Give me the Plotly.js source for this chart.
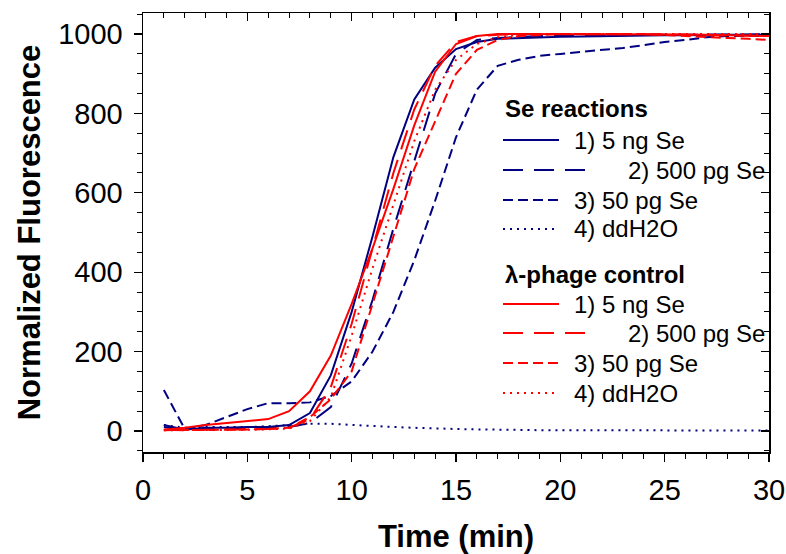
<!DOCTYPE html>
<html>
<head>
<meta charset="utf-8">
<script src="https://cdn.plot.ly/plotly-3.0.1.min.js"></script>
<style>html,body{margin:0;padding:0;background:#fff;}#chart{width:786px;height:554px;}</style>
</head>
<body>
<div id="chart"></div>
<script>
// Time (min)
const time = [1,2,3,4,5,6,7,8,9,10,11,12,13,14,15,16,17,18,19,20,21,22,23,24,25,26,27,28,29,30];

// Se reactions (blue)
const se_5ng   = [15,3,8,8,10,10,15,45,140,300,490,690,835,915,962,980,988,990,992,993,994,995,996,996,997,997,998,998,998,998];
const se_500pg = [10,2,5,5,6,8,10,20,60,170,330,510,680,850,950,985,990,993,995,995,996,997,997,998,998,998,999,999,999,1000];
const se_50pg  = [103,5,15,35,55,70,70,72,88,125,200,300,430,580,740,860,920,935,945,950,955,960,965,972,980,985,992,995,995,995];
const se_h2o   = [15,8,10,10,10,12,15,18,18,15,12,10,8,6,5,4,3,3,2,2,2,2,2,2,1,1,1,1,1,1];

// lambda-phage control (red)
const lp_5ng   = [3,8,15,20,25,30,50,100,190,320,460,610,770,905,975,995,1000,1000,1000,1000,1000,1000,1000,1000,1000,999,998,997,996,995];
const lp_500pg = [3,2,3,3,4,5,8,30,110,270,460,650,810,920,980,995,998,1000,1000,1000,1000,1000,1000,1000,999,998,997,996,995,995];
const lp_50pg  = [2,2,3,3,4,5,8,35,80,150,320,490,660,780,900,960,985,995,998,1000,1000,1000,1000,1000,998,995,992,990,988,985];
const lp_h2o   = [2,2,2,3,3,4,6,25,85,240,410,570,730,860,935,975,992,998,1000,1000,1000,1000,1000,1000,1000,1000,1000,1000,1000,1000];

const labels = ['1) 5 ng Se', '2) 500 pg Se', '3) 50 pg Se', '4) ddH2O'];
const groupTitles = ['Se reactions', '\u03bb-phage control'];

const BLUE = '#000080', RED = '#ff0000';
const dashes = ['solid', '20px,11px', '10px,5px', '2px,5px'];
const FONT = 'Liberation Sans, Arial, sans-serif';

// plot area in pixels (layout)
const L = 143, R = 769, T = 13, B = 452;
const px = v => (v - L) / (R - L);
const py = v => (B - v) / (B - T);

function mk(y, i, color) {
  return {
    x: time, y: y, type: 'scatter', mode: 'lines', name: labels[i],
    showlegend: false,
    line: {color: color, width: 2, dash: dashes[i]},
    hoverinfo: 'skip'
  };
}

const traces = [
  mk(se_5ng, 0, BLUE), mk(se_500pg, 1, BLUE), mk(se_50pg, 2, BLUE), mk(se_h2o, 3, BLUE),
  mk(lp_5ng, 0, RED), mk(lp_500pg, 1, RED), mk(lp_50pg, 2, RED), mk(lp_h2o, 3, RED),
  {x: [], y: [], xaxis: 'x2', yaxis: 'y2', showlegend: false, type: 'scatter', mode: 'lines', hoverinfo: 'skip'}
];

// hand-built legend (two groups), matching the reference's layout
const shapes = [], annotations = [];
const groupTop = [108, 274];
const itemRows = [[140, 170, 200, 229], [304, 333, 363, 393]];
const sampleEnd = [559, 591, 559, 557];
const textX = [572, 626, 572, 572];
[BLUE, RED].forEach((color, g) => {
  annotations.push({
    xref: 'paper', yref: 'paper', x: px(503), y: py(groupTop[g]), xanchor: 'left', yanchor: 'middle',
    text: '<b>' + groupTitles[g] + '</b>', showarrow: false,
    font: {family: FONT, size: 24, color: '#000'}
  });
  labels.forEach((lab, i) => {
    const yy = py(itemRows[g][i]);
    shapes.push({
      type: 'line', xref: 'paper', yref: 'paper', x0: px(503), x1: px(sampleEnd[i]), y0: yy, y1: yy,
      line: {color: color, width: 2, dash: dashes[i]}
    });
    annotations.push({
      xref: 'paper', yref: 'paper', x: px(textX[i]), y: yy, xanchor: 'left', yanchor: 'middle',
      text: lab, showarrow: false, font: {family: FONT, size: 24, color: '#000'}
    });
  });
});

const axBase = {
  showgrid: false, zeroline: false, showline: true, linecolor: '#000', linewidth: 1.5,
  tickcolor: '#000', tickwidth: 1.2, ticklen: 8,
  tickfont: {family: FONT, size: 29, color: '#000'}
};

const layout = {
  width: 786, height: 554,
  margin: {l: 143, r: 17, t: 13, b: 102},
  paper_bgcolor: '#fff', plot_bgcolor: '#fff',
  font: {family: FONT, color: '#000'},
  showlegend: false,
  shapes: shapes, annotations: annotations,
  xaxis: Object.assign({}, axBase, {
    range: [0, 30], dtick: 5, tick0: 0, ticks: 'outside', ticklabelstandoff: 4,
    minor: {dtick: 1, ticks: 'outside', ticklen: 5, tickcolor: '#000', tickwidth: 1},
    title: {text: 'Time (min)', font: {family: FONT, size: 31, color: '#000', weight: 'bold'}, standoff: 24}
  }),
  yaxis: Object.assign({}, axBase, {
    range: [-53, 1053], dtick: 200, tick0: 0, ticks: 'outside', ticklabelstandoff: 5,
    minor: {dtick: 50, ticks: 'outside', ticklen: 5, tickcolor: '#000', tickwidth: 1},
    title: {text: '\u00a0\u00a0Normalized Fluorescence', font: {family: FONT, size: 31, color: '#000', weight: 'bold'}, standoff: 8}
  }),
  xaxis2: Object.assign({}, axBase, {
    overlaying: 'x', side: 'top', range: [0, 30], dtick: 5, tick0: 0, ticks: 'inside', showticklabels: false,
    minor: {dtick: 1, ticks: 'inside', ticklen: 5, tickcolor: '#000', tickwidth: 1}
  }),
  yaxis2: Object.assign({}, axBase, {
    overlaying: 'y', side: 'right', range: [-53, 1053], dtick: 200, tick0: 0, ticks: 'inside', showticklabels: false,
    minor: {dtick: 50, ticks: 'inside', ticklen: 5, tickcolor: '#000', tickwidth: 1}
  })
};

Plotly.newPlot('chart', traces, layout, {staticPlot: true, displayModeBar: false});
</script>
</body>
</html>
